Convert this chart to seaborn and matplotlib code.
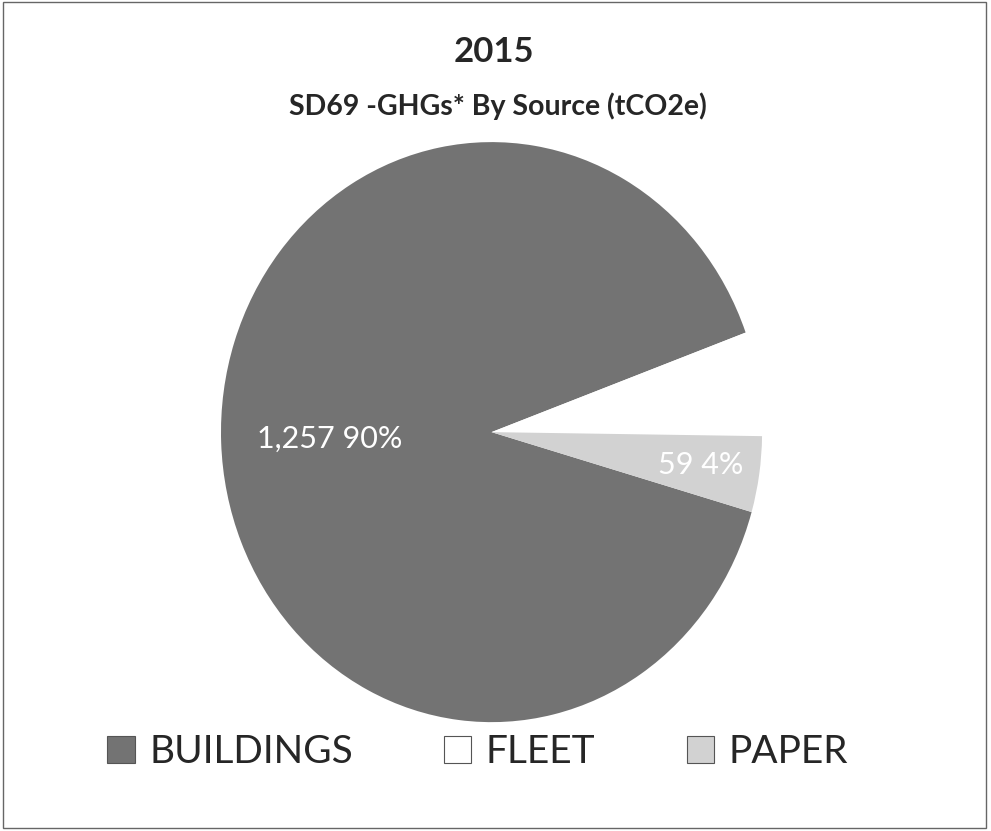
import numpy as np
import matplotlib.pyplot as plt
import seaborn as sns
from matplotlib.patches import Rectangle, Patch

sources = ['BUILDINGS', 'FLEET', 'PAPER']
emissions = [1257, 81, 59]
slice_colors = ['#737373', '#ffffff', '#d2d2d2']

sns.set_theme(style='white')
plt.rcParams['font.family'] = ['Lato', 'DejaVu Sans']

fig = plt.figure(figsize=(9.91, 8.31), dpi=100)
fig.patch.set_facecolor('white')
fig.patches.append(Rectangle((0.003, 0.004), 0.992, 0.993, transform=fig.transFigure,
                             fill=False, edgecolor='#666666', linewidth=1.0))

# the scanned pie is a little taller than wide
ax = fig.add_axes([0.223, 0.131, 0.546, 0.698])
wedges, _ = ax.pie(emissions, colors=slice_colors, startangle=-16, counterclock=False,
                   wedgeprops=dict(edgecolor='none'))
ax.set_xlim(-1, 1)
ax.set_ylim(-1, 1)
ax.set_aspect('auto')

total = sum(emissions)
label_dist = [0.6, 0.78, 0.78]
for w, v, d in zip(wedges, emissions, label_dist):
    mid = np.deg2rad((w.theta1 + w.theta2) / 2)
    ax.text(d * np.cos(mid), d * np.sin(mid), f'{v:,} {v / total:.0%}',
            ha='center', va='center', color='white', fontsize=22)

fig.text(0.498, 0.938, '2015', ha='center', va='center', fontsize=25, fontweight='bold')
fig.text(0.502, 0.872, 'SD69 -GHGs* By Source (tCO2e)', ha='center', va='center',
         fontsize=20.5, fontweight='bold')

handles = [Patch(facecolor=c, edgecolor='#555555', linewidth=0.8) for c in slice_colors]
fig.legend(handles, sources, loc='center', bbox_to_anchor=(0.482, 0.095), ncol=3,
           frameon=False, fontsize=28, handlelength=0.7, handleheight=0.7,
           handletextpad=0.37, columnspacing=2.35)

fig.savefig('out.png', dpi=100)
